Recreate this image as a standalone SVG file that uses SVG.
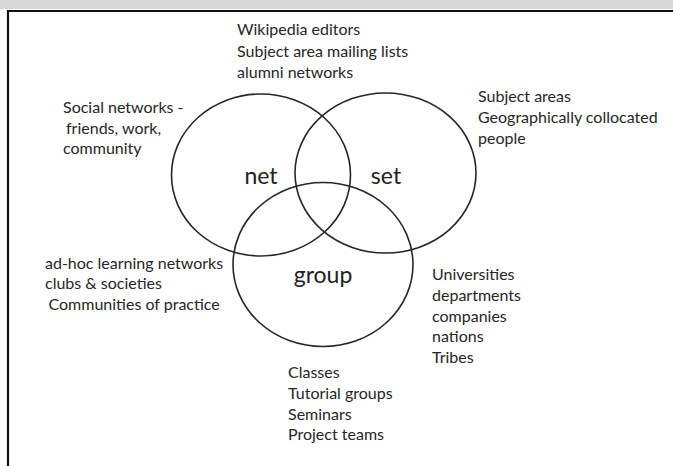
<svg xmlns="http://www.w3.org/2000/svg" width="673" height="466" viewBox="0 0 673 466">
  <style>
    .ring { fill: none; stroke: #262626; stroke-width: 1.6; }
    .note { font-family: Lato, "Open Sans", sans-serif; font-size: 16px; fill: #262626; }
    .title { font-family: Lato, "Open Sans", sans-serif; font-size: 23px; fill: #222; }
    .frame { stroke: #111; stroke-width: 2.2; fill: none; }
  </style>
  <rect x="0" y="0" width="673" height="466" fill="#fff"/>
  <rect x="0" y="0" width="673" height="9" fill="#d8d8d8"/>
  <path class="frame" d="M8 466 V11 H673"/>

  <g id="connectors"/>

  <g id="net">
    <ellipse class="ring" cx="261" cy="175" rx="89.5" ry="81"/>
    <text class="title" x="261" y="184" text-anchor="middle">net</text>
  </g>
  <g id="set">
    <ellipse class="ring" cx="385.5" cy="173" rx="90.5" ry="80"/>
    <text class="title" x="386" y="184" text-anchor="middle">set</text>
  </g>
  <g id="group">
    <ellipse class="ring" cx="323" cy="264.5" rx="90" ry="82"/>
    <text class="title" x="323" y="283" text-anchor="middle">group</text>
  </g>

  <g id="net-examples">
    <text class="note" x="63" y="113">Social networks -</text>
    <text class="note" x="66" y="133.5">friends, work,</text>
    <text class="note" x="63" y="154">community</text>
  </g>
  <g id="net-set-examples">
    <text class="note" x="237" y="35">Wikipedia editors</text>
    <text class="note" x="237" y="56.5">Subject area mailing lists</text>
    <text class="note" x="237" y="78">alumni networks</text>
  </g>
  <g id="set-examples">
    <text class="note" x="478" y="102">Subject areas</text>
    <text class="note" x="478" y="123">Geographically collocated</text>
    <text class="note" x="478" y="144">people</text>
  </g>
  <g id="net-group-examples">
    <text class="note" x="45" y="269">ad-hoc learning networks</text>
    <text class="note" x="45" y="289">clubs &amp; societies</text>
    <text class="note" x="48.5" y="310">Communities of practice</text>
  </g>
  <g id="set-group-examples">
    <text class="note" x="432" y="280">Universities</text>
    <text class="note" x="432" y="301">departments</text>
    <text class="note" x="432" y="321.5">companies</text>
    <text class="note" x="432" y="342">nations</text>
    <text class="note" x="432" y="362.5">Tribes</text>
  </g>
  <g id="group-examples">
    <text class="note" x="288" y="378">Classes</text>
    <text class="note" x="288" y="399">Tutorial groups</text>
    <text class="note" x="288" y="419.5">Seminars</text>
    <text class="note" x="288" y="440">Project teams</text>
  </g>
</svg>
